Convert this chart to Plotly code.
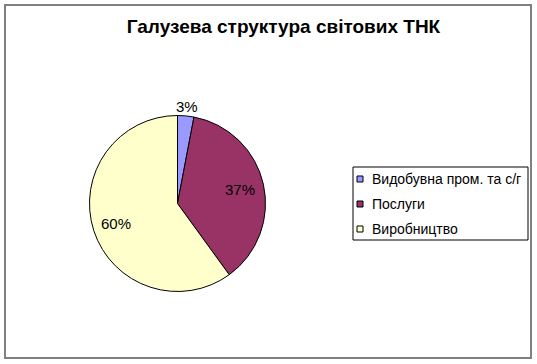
import math
import plotly.graph_objects as go

title = "Галузева структура світових ТНК"
categories = ["Видобувна пром. та с/г", "Послуги", "Виробництво"]
values = [3, 37, 60]
colors = ["#9999FF", "#993366", "#FFFFCC"]
label_outside = [True, False, False]

W, H = 537, 364
cx, cy, R = 177.5, 203.5, 88
FONT = "Liberation Sans, Arial, sans-serif"

fig = go.Figure(go.Pie(
    labels=categories,
    values=values,
    sort=False,
    direction="clockwise",
    rotation=0,
    marker=dict(colors=colors, line=dict(color="#000000", width=1)),
    textinfo="none",
    hoverinfo="label+percent",
    domain=dict(x=[(cx - R) / W, (cx + R) / W], y=[(H - cy - R) / H, (H - cy + R) / H]),
    showlegend=False,
))

annotations = []
# percentage labels placed along each slice bisector (derived from values)
total = sum(values)
cum = 0
for v, out in zip(values, label_outside):
    mid = (cum + v / 2) / total * 2 * math.pi
    cum += v
    r = R * (1.11 if out else 0.73)
    x = cx + r * math.sin(mid)
    y = cy - r * math.cos(mid)
    annotations.append(dict(
        x=x / W, y=1 - y / H, xref="paper", yref="paper",
        text=f"{round(v / total * 100)}%", showarrow=False,
        xanchor="center", yanchor="middle",
        font=dict(family=FONT, size=15, color="#000000")))

# legend (box, swatches, labels) built from the category lists
leg_x0, leg_y0, leg_x1, leg_y1 = 353, 167, 528, 240
row0, row_step = 179, 25
shapes = [
    dict(type="rect", xref="paper", yref="paper",
         x0=5 / W, x1=531 / W, y0=1 - 358 / H, y1=1 - 5 / H,
         line=dict(color="#808080", width=2)),
    dict(type="rect", xref="paper", yref="paper",
         x0=leg_x0 / W, x1=leg_x1 / W, y0=1 - leg_y1 / H, y1=1 - leg_y0 / H,
         line=dict(color="#000000", width=1), fillcolor="#FFFFFF"),
]
for i, (name, col) in enumerate(zip(categories, colors)):
    yc = row0 + i * row_step
    shapes.append(dict(type="rect", xref="paper", yref="paper",
                       x0=357 / W, x1=363 / W, y0=1 - (yc + 3) / H, y1=1 - (yc - 3) / H,
                       line=dict(color="#000000", width=1), fillcolor=col))
    annotations.append(dict(x=370 / W, y=1 - yc / H, xref="paper", yref="paper",
                            text=name, showarrow=False, xanchor="left", yanchor="middle",
                            font=dict(family=FONT, size=14, color="#000000")))

fig.update_layout(
    width=W, height=H,
    margin=dict(l=0, r=0, t=0, b=0, autoexpand=False),
    paper_bgcolor="#FFFFFF",
    plot_bgcolor="#FFFFFF",
    title=dict(text="<b>" + title + "</b>", x=283.5 / W, xanchor="center", y=1 - 26 / H, yanchor="middle",
               font=dict(family=FONT, size=19, color="#000000")),
    shapes=shapes,
    annotations=annotations,
    showlegend=False,
)

fig.write_html("out.html", config={"displayModeBar": False},
               post_script="document.body.style.margin='0';document.body.style.overflow='hidden';")
